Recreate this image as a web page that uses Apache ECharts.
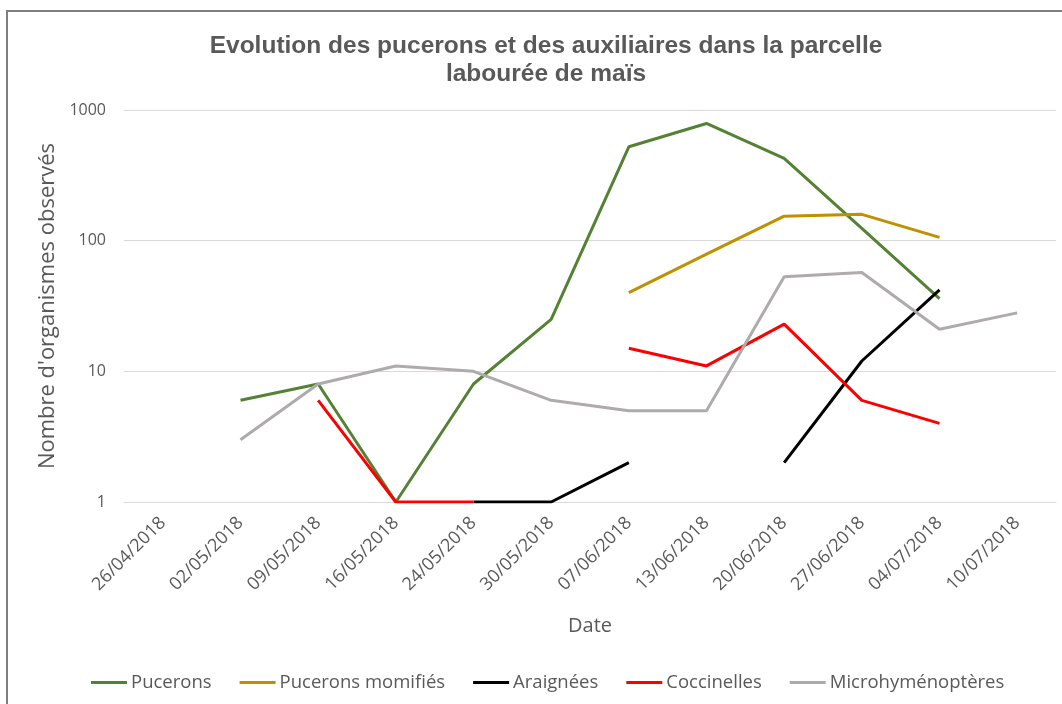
<!DOCTYPE html>
<html>
<head>
<meta charset="utf-8">
<script src="https://cdn.jsdelivr.net/npm/echarts@6/dist/echarts.min.js"></script>
<style>html,body{margin:0;padding:0;background:#fff;}#c{width:1062px;height:704px;}</style>
</head>
<body>
<div id="c"></div>
<script>
const dates = ['26/04/2018','02/05/2018','09/05/2018','16/05/2018','24/05/2018','30/05/2018','07/06/2018','13/06/2018','20/06/2018','27/06/2018','04/07/2018','10/07/2018'];
const pucerons = [null, 6, 8, 1, 8, 25, 523, 789, 427, 124, 36, null];
const puceronsMomifies = [null, null, null, null, null, null, 40, 79, 154, 159, 106, null];
const araignees = [null, null, null, null, 1, 1, 2, null, 2, 12, 42, null];
const coccinelles = [null, null, 6, 1, 1, null, 15, 11, 23, 6, 4, null];
const microhymenopteres = [null, 3, 8, 11, 10, 6, 5, 5, 53, 57, 21, 28];
const yTicks = [1, 10, 100, 1000];

const font = 'Open Sans';
const grey = '#595959';
const chart = echarts.init(document.getElementById('c'), null, {renderer: 'canvas'});
function mk(name, data, color) {
  return {name, type: 'line', data, symbol: 'none', connectNulls: false,
    lineStyle: {color, width: 3}, itemStyle: {color}, emphasis: {disabled: true}};
}
chart.setOption({
  animation: false,
  backgroundColor: '#fff',
  graphic: [{type: 'rect', shape: {x: 7, y: 11, width: 1070, height: 720},
    style: {fill: 'none', stroke: '#7f7f7f', lineWidth: 2}, silent: true}],
  title: {
    text: 'Evolution des pucerons et des auxiliaires dans la parcelle\nlabourée de maïs',
    left: 541, textAlign: 'center', top: 27,
    textStyle: {fontFamily: 'Liberation Sans', fontWeight: 'bold', fontSize: 24.5, color: grey, lineHeight: 28}
  },
  grid: {left: 124, right: 6, top: 110, bottom: 202, containLabel: false},
  legend: {
    bottom: 7, left: 86, itemWidth: 36, itemHeight: 3, itemGap: 28, icon: 'rect',
    textStyle: {fontFamily: font, fontSize: 18.5, color: grey, padding: [0, 0, 0, -1]},
    data: ['Pucerons', 'Pucerons momifiés', 'Araignées', 'Coccinelles', 'Microhyménoptères']
  },
  xAxis: {
    type: 'category', data: dates, boundaryGap: true,
    name: 'Date', nameLocation: 'middle', nameGap: 114,
    nameTextStyle: {fontFamily: font, fontSize: 20, color: grey},
    axisLine: {show: true, lineStyle: {color: '#d9d9d9', width: 1}},
    axisTick: {show: false},
    axisLabel: {rotate: 45, fontFamily: font, fontSize: 18, color: grey, margin: 18, interval: 0}
  },
  yAxis: {
    type: 'log', logBase: 10, min: yTicks[0], max: yTicks[yTicks.length - 1],
    name: "Nombre d'organismes observés", nameLocation: 'middle', nameGap: 63,
    nameTextStyle: {fontFamily: font, fontSize: 22, color: grey},
    axisLine: {show: false}, axisTick: {show: false},
    axisLabel: {fontFamily: font, fontSize: 16, color: grey, margin: 18, formatter: v => String(v)},
    splitLine: {lineStyle: {color: '#d9d9d9', width: 1}},
    minorSplitLine: {show: false}
  },
  series: [
    mk('Pucerons', pucerons, '#548235'),
    mk('Pucerons momifiés', puceronsMomifies, '#bf9000'),
    mk('Araignées', araignees, '#000000'),
    mk('Coccinelles', coccinelles, '#ff0000'),
    mk('Microhyménoptères', microhymenopteres, '#afabab')
  ]
});
</script>
</body>
</html>
